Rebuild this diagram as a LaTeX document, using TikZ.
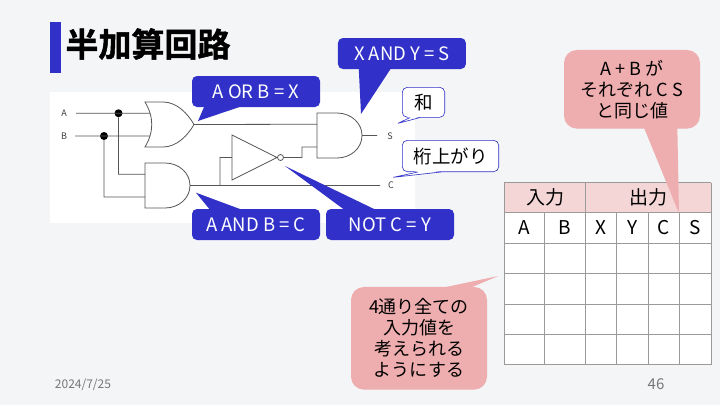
\documentclass[tikz,border=0pt]{standalone}
\usepackage{fontspec}
\usepackage{xcolor}
\usepackage{tikz}
\usetikzlibrary{calc,positioning}
\setmainfont{Noto Sans CJK JP}
\newfontfamily\titlefont[FakeBold=1.5]{Noto Sans CJK JP Bold}
\definecolor{slidebg}{HTML}{F3F5F7}
\definecolor{barblue}{HTML}{3131C9}
\definecolor{notepink}{HTML}{EEADAE}
\definecolor{headpink}{HTML}{F4D6D7}
\definecolor{wiregray}{HTML}{555555}
\definecolor{gridgray}{HTML}{9A9A9A}
\definecolor{footgray}{HTML}{777777}
\tikzset{
  wire/.style={draw=wiregray,line width=0.8pt},
  andgate/.pic={
    \draw[wire] (0,0) -- (20,0) .. controls (34,0) and (45,10) .. (45,22.5)
      .. controls (45,35) and (34,45) .. (20,45) -- (0,45) -- cycle;
    \coordinate (-in1) at (0,11.25);
    \coordinate (-in2) at (0,34);
    \coordinate (-out) at (45,22.5);
  },
  orgate/.pic={
    \draw[wire] (0,0) -- (18,0) .. controls (32,0) and (43,12) .. (49,22.5)
      .. controls (43,33) and (32,45) .. (18,45) -- (0,45)
      .. controls (9,30) and (9,15) .. (0,0) -- cycle;
    \coordinate (-in1) at (5.2,11.25);
    \coordinate (-in2) at (5.2,34);
    \coordinate (-out) at (49,22.5);
  },
  notgate/.pic={
    \draw[wire] (0,0) -- (45,22.5) -- (0,45) -- cycle;
    \draw[wire] (48.5,22.5) circle (3);
    \coordinate (-in) at (0,22.5);
    \coordinate (-out) at (51.5,22.5);
  }
}
\begin{document}
\begin{tikzpicture}
          [x=1pt,y=-1pt,
           on grid,
           bluebox/.style={fill=barblue,text=white,rounded corners=5pt,minimum width=128pt,minimum height=31pt,inner sep=0pt,font=\fontsize{18.5}{20}\selectfont},
           bluetip/.style={fill=barblue},
           whitebox/.style={draw=barblue,fill=white,line width=0.6pt,rounded corners=5pt,inner sep=0pt,font=\fontsize{18.5}{20}\selectfont},
           pinkbox/.style={fill=notepink,rounded corners=13pt,inner sep=0pt,align=center,font=\fontsize{18}{21}\selectfont},
           pinktip/.style={fill=notepink},
           pinlabel/.style={inner sep=0pt,text=black!75,font=\fontsize{9}{10}\selectfont},
           cell/.style={inner sep=0pt,font=\fontsize{19}{21}\selectfont},
           dot/.style={circle,fill=black,inner sep=0pt,minimum size=8pt}
          ]
          \fill[slidebg] (0,0) rectangle (720,405);
          \useasboundingbox (0,0) rectangle (720,405);
          % title
          \fill[barblue] (50,22) rectangle (61,73);
          \node[inner sep=0pt,font=\fontsize{33}{35}\titlefont] (title) at (148,44) {半加算回路};
          \node[inner sep=0pt,text=footgray,font=\fontsize{12}{13}\selectfont] (date) at (83,385) {2024/7/25};
          \node[inner sep=0pt,text=footgray,font=\fontsize{15}{16}\selectfont] (page) at (656,384) {46};
          % circuit
          \fill[white] (50,92) rectangle (415,223);
          \pic (orX) at (145,102) {orgate};
          \pic (andC) at (145,163) {andgate};
          \pic (andS) at (317,113) {andgate};
          \pic (notY) at (232,135) {notgate};
          \node[pinlabel] (labA) at (64,113.5) {A};
          \node[pinlabel] (labB) at (64,136) {B};
          \node[pinlabel] (labS) at (390,136) {S};
          \node[pinlabel] (labC) at (391,185.5) {C};
          \coordinate (startA) at (76,113.25);
          \coordinate (startB) at (75,136);
          \coordinate (endS) at (377,135.5);
          \coordinate (endC) at (380,185.5);
          \coordinate (tapC) at (220,185.5);
          \coordinate (kinkY) at (302,152);
          \node[dot] (dotA) at (118.5,113.25) {};
          \node[dot] (dotB) at (104,136) {};
          \draw[wire]
            (startA) -- (orX-in1)
            (startB) -- (orX-in2)
            (dotA) |- (andC-in1)
            (dotB) |- (andC-in2)
            (orX-out) -- (andS-in1)
            (andC-out) -- (endC)
            (tapC) |- (notY-in)
            (notY-out) -| (kinkY) |- (andS-in2)
            (andS-out) -- (endS);
          % table
          \fill[headpink] (504,182.7) rectangle (711,212.7);
          \fill[white] (504,212.7) rectangle (711,364.7);
          \foreach \ya in {182.7,212.7,243.2,273.5,304,334.3,364.7}
            \draw[gridgray,line width=0.9pt] (504,\ya) -- (711,\ya);
          \foreach \xa in {504,585.7,711}
            \draw[gridgray,line width=0.9pt] (\xa,182.7) -- (\xa,364.7);
          \foreach \xa in {544.7,616.7,648.3,679.3}
            \draw[gridgray,line width=0.9pt] (\xa,212.7) -- (\xa,364.7);
          \node[cell] (headIn) at (545,197.5) {入力};
          \node[cell] (headOut) at (648.5,197.5) {出力};
          \foreach \xa/\lab in {524.5/A,565/B,601/X,632.5/Y,664/C,695/S}
            \node[cell] (col\lab) at (\xa,227.5) {\lab};
          % blue notes
          \node[bluebox] (noteOr) at (256,91.5) {A OR B = X};
          \node[bluebox,below=133pt of noteOr] (noteAnd) {A AND B = C};
          \node[bluebox,right=134pt of noteAnd] (noteNot) {NOT C = Y};
          \node[bluebox] (noteSum) at (401.9,53.5) {X AND Y = S};
          \coordinate (tipOr) at (198,121);
          \coordinate (tipAnd) at (196,192.7);
          \coordinate (tipNot) at (285,166);
          \coordinate (tipSum) at (361,114);
          \fill[bluetip] (tipOr) -- ($(noteOr.south west)+(13,-2)$) -- ($(noteOr.south west)+(53,-2)$) -- cycle;
          \fill[bluetip] (tipAnd) -- ($(noteAnd.north west)+(19,2)$) -- ($(noteAnd.north west)+(53,2)$) -- cycle;
          \fill[bluetip] (tipNot) -- ($(noteNot.north west)+(20,2)$) -- ($(noteNot.north west)+(52,2)$) -- cycle;
          \fill[bluetip] (tipSum) -- ($(noteSum.south west)+(21,-2)$) -- ($(noteSum.south west)+(54,-2)$) -- cycle;
          % white notes
          \node[whitebox,minimum width=42.4pt,minimum height=30pt] (noteWa) at (423.5,102.3) {和};
          \node[whitebox,minimum width=96.4pt,minimum height=31.4pt] (noteCarry) at (450.5,156) {桁上がり};
          \coordinate (tipWa) at (398,123.3);
          \coordinate (tipCarry) at (393.3,177.3);
          \fill[white] (tipWa) -- ($(noteWa.south west)+(8,-1)$) -- ($(noteWa.south west)+(18,-1)$) -- cycle;
          \draw[barblue,line width=0.6pt] ($(noteWa.south west)+(8,0)$) -- (tipWa) -- ($(noteWa.south west)+(18,0)$);
          \fill[white] (tipCarry) -- ($(noteCarry.south west)+(16,-1)$) -- ($(noteCarry.south west)+(39,-1)$) -- cycle;
          \draw[barblue,line width=0.6pt] ($(noteCarry.south west)+(16,0)$) -- (tipCarry) -- ($(noteCarry.south west)+(39,0)$);
          % pink notes
          \coordinate (tipSame) at (679,213.3);
          \coordinate (tipAll) at (498.3,276);
          \fill[pinktip] (tipSame) -- (643.3,126) -- (677.3,126) -- cycle;
          \fill[pinktip] (tipAll) -- (431.7,290) -- (465,290) -- cycle;
          \node[pinkbox,minimum width=136pt,minimum height=78.7pt] (noteSame) at (632,89.3) {A + B が\\それぞれ C S\\と同じ値};
          \node[pinkbox,minimum width=136pt,minimum height=102.7pt] (noteAll) at (419,338.3) {4通り全ての\\入力値を\\考えられる\\ようにする};
        \end{tikzpicture}
\end{document}
